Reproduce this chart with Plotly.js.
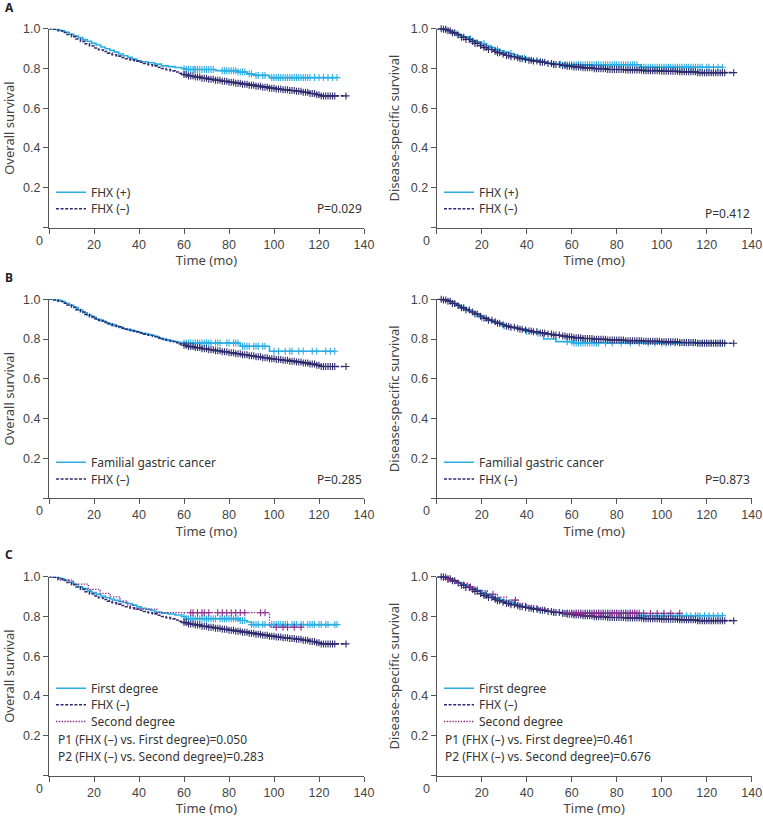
<!DOCTYPE html>
<html><head><meta charset="utf-8">
<script src="https://cdn.plot.ly/plotly-3.0.1.min.js"></script>
<style>html,body{margin:0;padding:0;background:#fff;}#chart{width:763px;height:818px;}</style>
</head><body><div id="chart"></div>
<script>
// ---------- DATA ----------
// Overall survival, FHX (+)
const osPosT = [0,3,5,7,9,11,13,15,17,19,21,23,25,27,29,31,33,35,37,39,41,44,47,50,53,56,59,61,74,84,88,91,98];
const osPosS = [1.0,0.996,0.99,0.982,0.972,0.963,0.955,0.946,0.936,0.926,0.918,0.908,0.899,0.891,0.882,0.873,0.864,0.856,0.847,0.839,0.834,0.829,0.822,0.813,0.809,0.805,0.80,0.795,0.789,0.782,0.773,0.765,0.754];
const osPosC = [60,61,62,63,64,64.5,65,66,67,68,69,70,71,72,73,77,78,79,80,81,82,83,84,85,86,87,89,90,92,93,95,96,99,100,101,102,103,104,105,106,107,108,109,110,111,112,113,114,115,116,118,120,122,124,126,128];
// Overall survival, FHX (-)
const osNegT = [0,2,4,6,8,10,12,14,16,18,20,22,24,26,28,30,32,34,36,38,40,42,44,46,48,50,52,54,56,58,60,62,65,68,71,74,77,80,83,86,89,92,95,98,101,104,107,110,113,116,119,121];
const osNegS = [1,0.997,0.99,0.981,0.971,0.96,0.948,0.936,0.924,0.913,0.903,0.894,0.885,0.877,0.869,0.862,0.855,0.849,0.843,0.837,0.831,0.825,0.819,0.813,0.806,0.8,0.794,0.788,0.782,0.776,0.769,0.762,0.757,0.751,0.746,0.741,0.736,0.731,0.726,0.721,0.716,0.711,0.706,0.701,0.697,0.693,0.689,0.685,0.68,0.674,0.668,0.662];
const osNegC = [60,61,62,63,64,65,66,67,68,69,70,71,72,73,74,75,76,77,78,79,80,81,82,83,84,85,86,87,88,89,90,91,92,93,94,95,96,97,98,99,100,101,102,103,104,105,106,107,108,109,110,111,112,113,114,115,116,117,118,119,120,121,122,123,124,125,126,127,132];
// Disease-specific survival, FHX (+)
const dssPosT = [0,4,6,8,10,12,14,16,18,20,22,24,26,28,30,32,34,36,38,40,42,45,48,51,54,57,90.5];
const dssPosS = [1,0.995,0.985,0.975,0.966,0.958,0.95,0.942,0.934,0.925,0.915,0.905,0.897,0.889,0.882,0.875,0.868,0.86,0.853,0.847,0.842,0.836,0.829,0.823,0.821,0.819,0.806];
const dssPosC = [4,9,15,21,27,33,39,46,52,55,57,58,59,60,61,62,63,64,65,66,67,68,69,70,71,72,73,74,75,76,77,78,79,80,81,82,83,84,85,86,87,88,89,91,92,93,94,95,96,97,98,99,100,101,102,103,104,105,106,107,108,109,110,111,112,113,114,115,116,117,118,120,121,123,125,127];
// Disease-specific survival, FHX (-)
const dssNegT = [0,3,5,7,9,11,13,15,17,19,21,23,25,27,29,31,33,35,37,39,41,43,46,49,52,55,58,61,65,70,76,84,92,100,108,116];
const dssNegS = [1,0.997,0.99,0.979,0.968,0.957,0.946,0.936,0.926,0.915,0.905,0.895,0.887,0.879,0.872,0.865,0.859,0.854,0.849,0.845,0.841,0.837,0.831,0.825,0.82,0.815,0.811,0.807,0.803,0.799,0.795,0.792,0.789,0.786,0.783,0.779];
const dssNegC = [2,3,4,5,6,7,8,9.5,11,12,13,14.5,16,17,18,19.5,21,22,23,24.5,26,27,28,29.5,31,32,33,34.5,36,37,38,39.5,41,42,43,44.5,46,47,48,49.5,51,52,53,54.5,56,57,58,59,60,61,62,63,64,65,66,67,68,69,70,71,72,73,74,75,76,77,78,79,80,81,82,83,84,85,86,87,88,89,90,91,92,93,94,95,96,97,98,99,100,101,102,103,104,105,106,107,108,109,110,111,112,113,114,115,116,117,118,119,120,121,122,123,124,125,126,127,128,132];
// Overall survival, familial gastric cancer
const osFamT = [0,3,5,7,9,11,13,15,17,19,21,23,25,27,29,31,33,35,37,39,41,43,45,47,49,51,53,55,57,59,85,98];
const osFamS = [1,0.997,0.99,0.98,0.97,0.958,0.946,0.932,0.92,0.909,0.9,0.891,0.882,0.874,0.866,0.859,0.852,0.846,0.84,0.834,0.829,0.824,0.819,0.812,0.804,0.797,0.792,0.788,0.784,0.78,0.764,0.739];
const osFamC = [60,61,62,63,64,65,66,67,68,69,70,71,72,74,75,76,79,80,82,83,84,86,87,88,89,91,92,93,95,96,100,102,105,107,108,111,113,117,119,123,125,127];
// Disease-specific survival, familial gastric cancer
const dssFamT = [0,4,6,8,10,12,14,16,18,20,22,24,26,28,30,32,34,36,38,40,42,44,47.5,53,60.5];
const dssFamS = [1,0.995,0.986,0.975,0.963,0.951,0.94,0.929,0.918,0.907,0.897,0.888,0.88,0.873,0.866,0.86,0.854,0.849,0.844,0.839,0.834,0.829,0.8,0.787,0.78];
const dssFamC = [20,30,40,45,58,60,61,62,63,64,65,66,67,68,69,70,71,72,75,78,82,86,90,94,97,100,102,104,106,108,110,112,114,116,118,120,122,124,126,127];
// Overall survival, first degree
const os1T = [0,3,5,7,9,11,13,15,17,19,21,23,25,27,29,31,33,35,37,39,41,43,45,47,50,53,56,59,61,85,88,90];
const os1S = [1,0.996,0.99,0.982,0.972,0.961,0.949,0.94,0.93,0.92,0.911,0.903,0.895,0.888,0.881,0.875,0.87,0.865,0.857,0.848,0.841,0.836,0.83,0.822,0.817,0.812,0.807,0.8,0.789,0.78,0.772,0.759];
const os1C = [60,61,62,63,64,65,66,67,68,69,70,71,72,73,74,76,77,78,79,80,81,82,83,84,85,86,87,90,91,92,93,95,96,99,100,101,102,103,104,105,106,108,109,110,112,113,115,116,117,118,120,121,123,124,127,128];
// Overall survival, second degree
const os2T = [0,4,10.8,17.5,22.7,27.1,31.6,34.5,37.5,47.9,98];
const os2S = [1,0.983,0.963,0.936,0.916,0.899,0.877,0.857,0.837,0.819,0.746];
const os2C = [63,64,66,68,69,71,75,77,79,81,83,85,87,94,96,101,104,106,109,112];
// Disease-specific survival, first degree
const dss1T = [0,4,6,8,10,12,14,16,18,20,22,24,26,28,30,32,34,36,38,40,42,45,48,51,54,57,90];
const dss1S = [1,0.995,0.986,0.976,0.967,0.958,0.949,0.94,0.931,0.921,0.911,0.901,0.893,0.885,0.878,0.871,0.864,0.857,0.851,0.846,0.841,0.835,0.828,0.822,0.82,0.818,0.804];
const dss1C = [3,12,22,33,45,52,56,58,60,62,64,66,68,70,72,74,76,78,80,82,84,86,88,91,92,93,95,96,98,100,101,103,105,107,109,111,113,115,116,117,119,121,123,125,127];
// Disease-specific survival, second degree
const dss2T = [0,4.4,8,13.6,18,22.5,27,31,36,40,45,50,56];
const dss2S = [1,0.986,0.967,0.948,0.93,0.912,0.897,0.882,0.866,0.852,0.838,0.826,0.816];
const dss2C = [5,15,25,35,58,59,60,61,62,63,64,65,66,67,68,69,70,71,72,73,74,75,76,77,78,79,80,81,82,83,84,85,86,87,88,89,90,92,95,98,101,104,108];

// Text
const xTicks = [0,20,40,60,80,100,120,140];
const yTicks = [0,0.2,0.4,0.6,0.8,1.0];
const yTickText = ['', '0.2','0.4','0.6','0.8','1.0'];
const pValues = ['P=0.029','P=0.412','P=0.285','P=0.873'];
const pLinesC = ['P1 (FHX (\u2013) vs. First degree)=0.050','P2 (FHX (\u2013) vs. Second degree)=0.283'];
const pLinesD = ['P1 (FHX (\u2013) vs. First degree)=0.461','P2 (FHX (\u2013) vs. Second degree)=0.676'];

// ---------- STYLE ----------
const CYAN = '#2AADE3', NAVY = '#2E2B6E', PURPLE = '#8B2E8C';
const W = 763, H = 818;
const colX = [[49/W, 364/W], [436.7/W, 751.7/W]];
const rowTop = [28.7, 299.3, 576.7], rowBot = [227.5, 498.1, 775.5];
const TXTFONT = {family: 'Noto Sans, sans-serif', size: 12, color: '#333'};

function survAt(tt, ts, ss) { let v = ss[0]; for (let i = 0; i < ts.length; i++) { if (ts[i] <= tt) v = ss[i]; } return v; }

const traces = [];
const legends = {};
let legCount = 0;
function km(ax, t, s, c, color, dash, width, name, col, legCenterPx) {
  legCount++;
  const ln = legCount === 1 ? 'legend' : 'legend' + legCount;
  legends[ln] = {x: (col === 0 ? 51 : 439)/W, y: 1 - (legCenterPx - 14)/H, xanchor: 'left', yanchor: 'top',
    bgcolor: 'rgba(0,0,0,0)', borderwidth: 0, font: TXTFONT, itemwidth: 30};
  const cmax = Math.max(...c);
  const xs = t.slice(), ys = s.slice();
  if (cmax > t[t.length-1]) { xs.push(cmax); ys.push(s[s.length-1]); }
  traces.push({x: xs, y: ys, mode: 'lines', line: {shape: 'hv', color: color, dash: dash, width: width},
    xaxis: 'x'+ax, yaxis: 'y'+ax, name: name, legend: ln, showlegend: true, hoverinfo: 'skip'});
  traces.push({x: c, y: c.map(v => survAt(v, t, s)), mode: 'markers', showlegend: false, cliponaxis: false,
    marker: {symbol: 'cross-thin', size: 5, color: color, line: {width: 1.1, color: color}},
    xaxis: 'x'+ax, yaxis: 'y'+ax, hoverinfo: 'skip'});
}
const NEGDASH = '3px,1.6px', DOT = '1.4px,1.4px';
const MINUS = 'FHX (\u2013)';
// A
km('', osPosT, osPosS, osPosC, CYAN, 'solid', 1.6, 'FHX (+)', 0, 191.7);
km('', osNegT, osNegS, osNegC, NAVY, NEGDASH, 1.6, MINUS, 0, 208.3);
km('2', dssPosT, dssPosS, dssPosC, CYAN, 'solid', 1.6, 'FHX (+)', 1, 191.7);
km('2', dssNegT, dssNegS, dssNegC, NAVY, NEGDASH, 1.6, MINUS, 1, 208.3);
// B
km('3', osFamT, osFamS, osFamC, CYAN, 'solid', 1.6, 'Familial gastric cancer', 0, 461.7);
km('3', osNegT, osNegS, osNegC, NAVY, NEGDASH, 1.6, MINUS, 0, 478.5);
km('4', dssFamT, dssFamS, dssFamC, CYAN, 'solid', 1.6, 'Familial gastric cancer', 1, 461.7);
km('4', dssNegT, dssNegS, dssNegC, NAVY, NEGDASH, 1.6, MINUS, 1, 478.5);
// C
km('5', os1T, os1S, os1C, CYAN, 'solid', 1.6, 'First degree', 0, 687.7);
km('5', osNegT, osNegS, osNegC, NAVY, NEGDASH, 1.6, MINUS, 0, 704.3);
km('5', os2T, os2S, os2C, PURPLE, DOT, 1.3, 'Second degree', 0, 721);
km('6', dss1T, dss1S, dss1C, CYAN, 'solid', 1.6, 'First degree', 1, 687.7);
km('6', dssNegT, dssNegS, dssNegC, NAVY, NEGDASH, 1.6, MINUS, 1, 704.3);
km('6', dss2T, dss2S, dss2C, PURPLE, DOT, 1.3, 'Second degree', 1, 721);

const TICKFONT = {family: 'Liberation Sans, Arial, sans-serif', size: 12.5, color: '#444'};
const layout = Object.assign({width: W, height: H, margin: {l: 0, r: 0, t: 0, b: 0}, paper_bgcolor: '#fff', plot_bgcolor: 'rgba(0,0,0,0)',
  showlegend: true, annotations: [], font: TXTFONT}, legends);
const yTitles = ['Overall survival', 'Disease-specific survival'];
for (let i = 0; i < 6; i++) {
  const r = Math.floor(i/2), c = i % 2;
  const sfx = i === 0 ? '' : String(i+1);
  layout['xaxis'+sfx] = {domain: colX[c], range: [0,140], anchor: 'y'+sfx, tickvals: xTicks, ticktext: xTicks.map(v => v === 0 ? '' : String(v)),
    showline: true, linecolor: '#555', linewidth: 1, ticks: 'outside', ticklen: 5, tickcolor: '#555', showgrid: false, zeroline: false,
    tickfont: TICKFONT, title: {text: 'Time (mo)', font: {family: 'Noto Sans, sans-serif', size: 13, color: '#444'}, standoff: 5}, fixedrange: true};
  layout['yaxis'+sfx] = {domain: [1 - rowBot[r]/H, 1 - rowTop[r]/H], range: [0,1], anchor: 'x'+sfx, tickvals: yTicks, ticktext: yTickText,
    showline: true, linecolor: '#555', linewidth: 1, ticks: 'outside', ticklen: 5, tickcolor: '#555', showgrid: false, zeroline: false,
    tickfont: TICKFONT, title: {text: yTitles[c], font: {family: 'Noto Sans, sans-serif', size: 13, color: '#444'}, standoff: 8}, fixedrange: true};
  // "0" label at the origin, offset left as in the reference
  layout.annotations.push({xref: 'x'+sfx, yref: 'y'+sfx, x: 0, y: 0, text: '0', showarrow: false, xshift: -10, yshift: -13,
    font: TICKFONT});
}
// P values
const pPos = [[364, 208], [751.7, 213], [364, 479], [751.7, 479]];
pValues.forEach((p, i) => {
  layout.annotations.push({xref: 'paper', yref: 'paper', x: pPos[i][0]/W, y: 1 - pPos[i][1]/H, xanchor: 'right', yanchor: 'middle',
    text: p, showarrow: false, font: TXTFONT});
});
[[pLinesC, 56], [pLinesD, 443]].forEach(([lines, xp]) => {
  lines.forEach((txt, j) => {
    layout.annotations.push({xref: 'paper', yref: 'paper', x: xp/W, y: 1 - (739.5 + j*16.5)/H, xanchor: 'left', yanchor: 'middle',
      text: txt, showarrow: false, font: TXTFONT});
  });
});
// Panel letters
[['A', 7], ['B', 277], ['C', 554]].forEach(([l, py]) => {
  layout.annotations.push({xref: 'paper', yref: 'paper', x: 3/W, y: 1 - py/H, xanchor: 'left', yanchor: 'middle',
    text: '<b>' + l + '</b>', showarrow: false, font: {family: 'Noto Sans, sans-serif', size: 12, color: '#222'}});
});
Plotly.newPlot('chart', traces, layout, {staticPlot: true, displayModeBar: false});
</script></body></html>
